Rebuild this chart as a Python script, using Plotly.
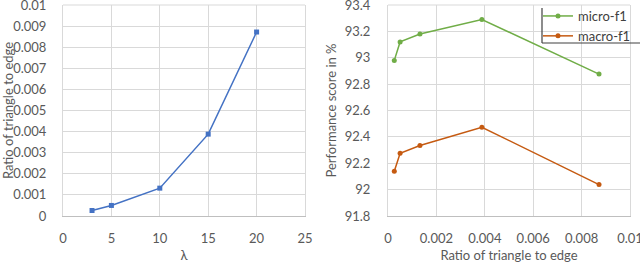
import plotly.graph_objects as go
from plotly.subplots import make_subplots

lam = [3, 5, 10, 15, 20]
ratio = [0.00026, 0.0005, 0.00132, 0.00388, 0.00872]
micro_f1 = [92.98, 93.12, 93.18, 93.29, 92.876]
macro_f1 = [92.14, 92.276, 92.334, 92.473, 92.038]

FONT = "Lato"
TICKC = "#595959"
GRID = "#D9D9D9"

fig = make_subplots(rows=1, cols=2)

fig.add_trace(go.Scatter(x=lam, y=ratio, mode="lines+markers",
                         line=dict(color="#4472C4", width=1.5),
                         marker=dict(symbol="square", size=5, color="#4472C4"),
                         showlegend=False), row=1, col=1)
fig.add_trace(go.Scatter(x=ratio, y=micro_f1, mode="lines+markers", name="micro-f1",
                         line=dict(color="#70AD47", width=1.5),
                         marker=dict(symbol="circle", size=5, color="#70AD47")), row=1, col=2)
fig.add_trace(go.Scatter(x=ratio, y=macro_f1, mode="lines+markers", name="macro-f1",
                         line=dict(color="#C55A11", width=1.5),
                         marker=dict(symbol="circle", size=5, color="#C55A11")), row=1, col=2)

ydom = [1 - 216 / 263, 1 - 5 / 263]
common = dict(showgrid=True, gridcolor=GRID, gridwidth=1, zeroline=False,
              tickfont=dict(family=FONT, size=13, color=TICKC), ticks="",
              ticklabeloverflow="allow", automargin=False,
              title_font=dict(family=FONT, size=13, color=TICKC))

fig.update_xaxes(domain=[63 / 640, 305 / 640], range=[0, 25], dtick=5,
                 title_text="λ", title_standoff=12,
                 showline=True, linecolor="#BFBFBF", ticklabelstandoff=10,
                 row=1, col=1, **common)
fig.update_yaxes(domain=ydom, range=[0, 0.01], dtick=0.001,
                 title_text="Ratio of triangle to edge", title_standoff=9,
                 showline=True, mirror=True, linecolor=GRID,
                 ticklabelstandoff=13, row=1, col=1, **common)
fig.update_xaxes(domain=[388 / 640, 630 / 640], range=[0, 0.01], dtick=0.002,
                 tickvals=[0, 0.002, 0.004, 0.006, 0.008, 0.01],
                 ticktext=["0", "0.002", "0.004", "0.006", "0.008", "0.01"],
                 title_text="Ratio of triangle to edge", title_standoff=6,
                 showline=True, linecolor="#BFBFBF", ticklabelstandoff=10,
                 row=1, col=2, **common)
fig.update_yaxes(domain=ydom, range=[91.8, 93.4], dtick=0.2,
                 tickvals=[91.8, 92, 92.2, 92.4, 92.6, 92.8, 93, 93.2, 93.4],
                 ticktext=["91.8", "92", "92.2", "92.4", "92.6", "92.8", "93", "93.2", "93.4"],
                 title_text="Performance score in %", title_standoff=5,
                 showline=True, mirror=True, linecolor=GRID,
                 ticklabelstandoff=14, row=1, col=2, **common)

fig.update_layout(
    width=640, height=263,
    margin=dict(l=0, r=0, t=0, b=0, autoexpand=False),
    paper_bgcolor="white", plot_bgcolor="white",
    legend=dict(x=538 / 640, y=1 - 1 / 263, xanchor="left", yanchor="top",
                bgcolor="rgba(0,0,0,0)", borderwidth=0,
                font=dict(family=FONT, size=13, color="#404040"),
                tracegroupgap=0, itemwidth=30),
    shapes=[
        dict(type="line", xref="x domain", yref="y domain",
             x0=0, x1=1, y0=1, y1=1, line=dict(color=GRID, width=1)),
        dict(type="line", xref="x2 domain", yref="y2 domain",
             x0=0, x1=1, y0=1, y1=1, line=dict(color=GRID, width=1)),
        dict(type="line", xref="paper", yref="paper",
             x0=542 / 640, x1=542 / 640, y0=1 - 8 / 263, y1=1 - 43 / 263,
             line=dict(color="#404040", width=1.2)),
        dict(type="line", xref="paper", yref="paper",
             x0=542 / 640, x1=1, y0=1 - 43 / 263, y1=1 - 43 / 263,
             line=dict(color="#404040", width=1.2)),
    ],
)

fig.write_html("out.html", config={"displayModeBar": False},
               post_script="document.body.style.margin='0';document.body.style.overflow='hidden';")
